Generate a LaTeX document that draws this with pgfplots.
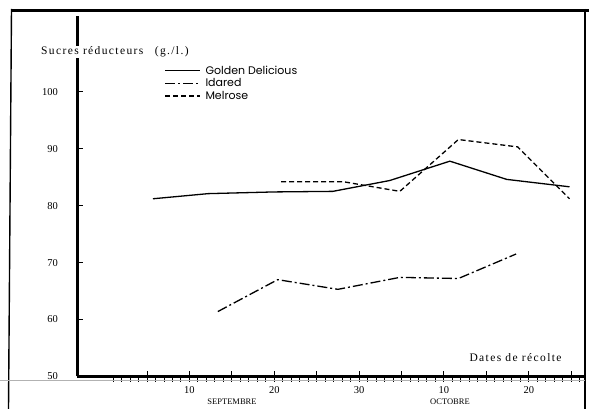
\documentclass[border=0pt]{standalone}
\usepackage{pgfplots}
\pgfplotsset{compat=1.18}
\usepackage{fontspec}
\setmainfont{Liberation Serif}
\newfontfamily\legfont{Poppins}
\newfontfamily\spfont[LetterSpace=12]{Liberation Serif}

\begin{document}
\begin{tikzpicture}[x=1pt,y=1pt]
\begin{axis}[
  at={(76,36)}, anchor=south west, xshift=13pt, yshift=12pt,
  scale only axis, width=509pt, height=360pt,
  xmin=-3.2, xmax=56.8, ymin=50, ymax=113.2,
  axis lines=left,
  axis line style={-, line width=2.2pt},
  clip=false,
  xtick={1,...,56},
  xticklabels={},
  xtick align=outside,
  major tick length=5.5pt,
  major tick style={line width=1pt, black},
  extra x ticks={5,10,15,20,25,30,35,40,45,50,55},
  extra x tick labels={,10,,20,,30,,10,,20,},
  extra x tick style={tick align=center, major tick length=10pt,
     xticklabel style={yshift=-1pt}},
  ytick={50,60,70,80,90,100},
  ytick align=inside,
  yticklabel style={xshift=-16pt},
  tick label style={font=\fontsize{10.5}{12}\selectfont},
  /pgf/number format/assume math mode=true,
  legend style={draw=none, fill=none, at={(0.171,0.868)}, anchor=north west,
     font=\legfont\fontsize{11}{12}\selectfont, row sep=0pt, inner sep=0pt,
     nodes={inner sep=1.5pt}},
  legend cell align=left,
  legend image code/.code={\draw[#1] (0pt,0pt) -- (35pt,0pt);},
]
\addplot[black, line width=1.3pt] coordinates {
  (5.7,81.2) (12.2,82.1) (20,82.4) (26.9,82.5) (33.6,84.4) (40.7,87.8) (47.4,84.6) (54.8,83.3)
};
\addlegendentry{\hspace{3pt}Golden Delicious}
\addplot[black, line width=1.3pt, dash pattern=on 10pt off 3pt on 2pt off 3pt] coordinates {
  (13.35,61.4) (20.4,67.0) (27.5,65.3) (34.8,67.4) (41.7,67.2) (48.5,71.5)
};
\addlegendentry{\hspace{3pt}Idared}
\addplot[black, line width=1.3pt, dash pattern=on 5pt off 3pt] coordinates {
  (20.8,84.2) (28.1,84.2) (34.8,82.5) (41.7,91.6) (48.7,90.3) (54.8,81.2)
};
\addlegendentry{\hspace{3pt}Melrose}
\end{axis}

% figure frame
\draw[line width=2.6pt] (10.5pt,398.5pt) -- (589pt,398.5pt);
\draw[line width=1.4pt] (11.5pt,400pt) -- (8.5pt,0pt);
\draw[line width=1.6pt] (585pt,400pt) -- (585pt,0pt);
\draw[gray!60, line width=0.6pt] (0pt,29pt) -- (585pt,29pt);

\node[anchor=west, fill=white, inner sep=1pt, font=\spfont\fontsize{11.5}{13}\selectfont] at (40,357) {Sucres réducteurs\quad(g./l.)};
\node[anchor=west, font=\spfont\fontsize{11.5}{13}\selectfont] at (466,51) {Dates de récolte};
\node[font=\fontsize{8.5}{10}\selectfont] at (232,7) {SEPTEMBRE};
\node[font=\fontsize{8.5}{10}\selectfont] at (450,7) {OCTOBRE};
\pgfresetboundingbox
\useasboundingbox (0,0) rectangle (589,409);
\end{tikzpicture}
\end{document}
